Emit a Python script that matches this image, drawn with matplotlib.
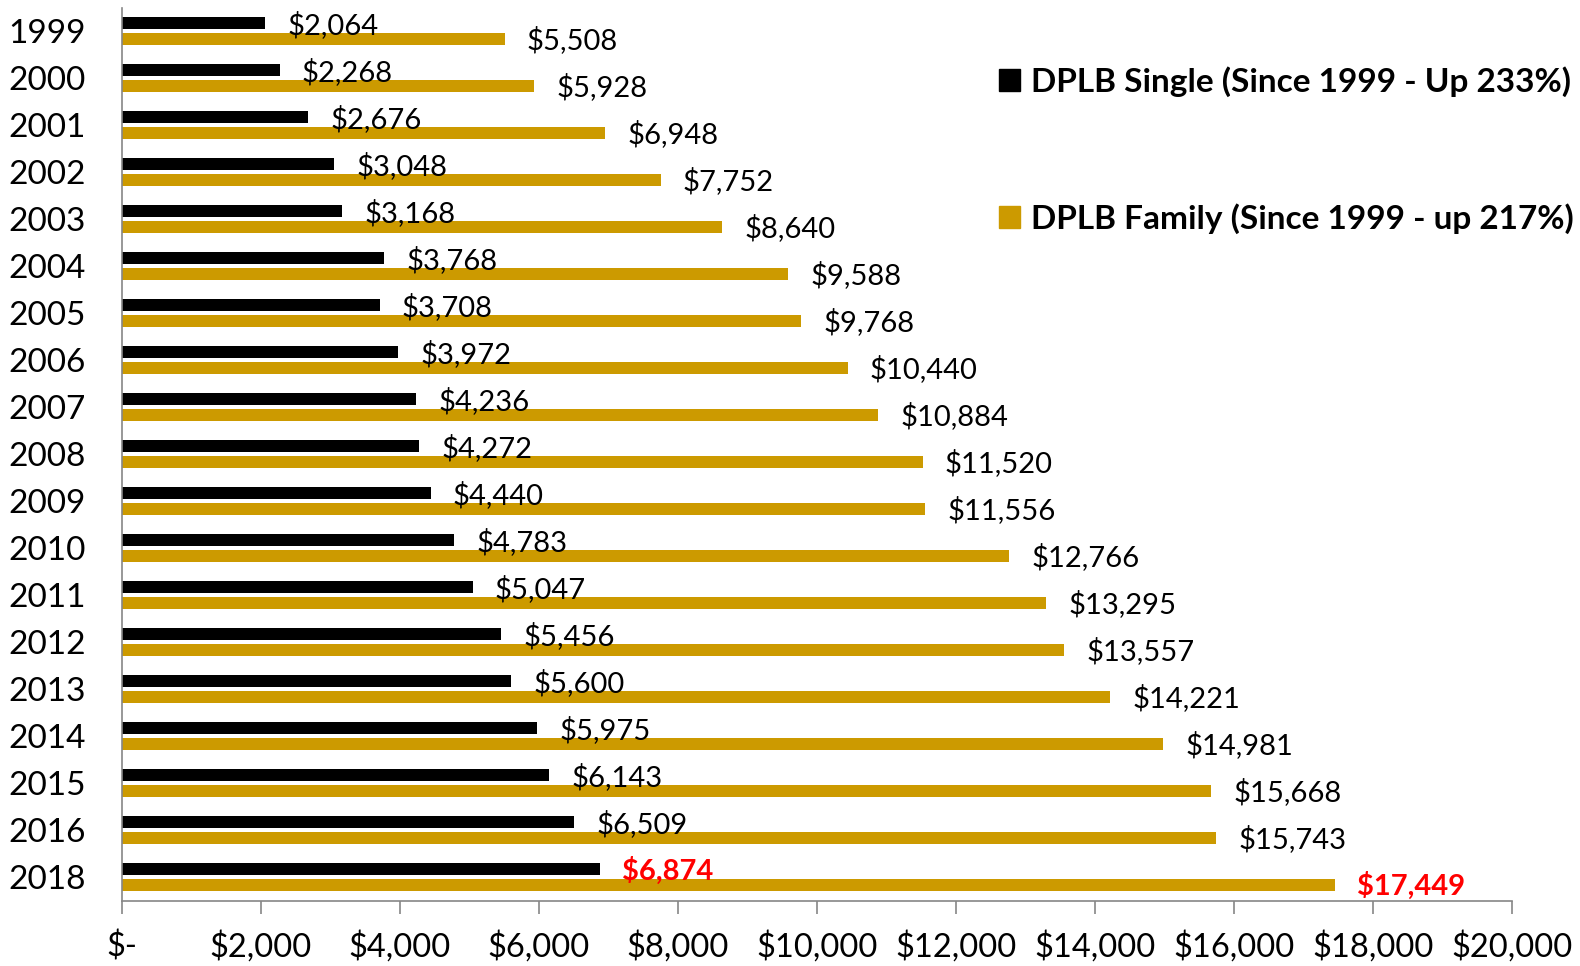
import matplotlib as mpl
import matplotlib.pyplot as plt
import numpy as np
from matplotlib.patches import Patch

YEARS = ["1999", "2000", "2001", "2002", "2003", "2004", "2005", "2006", "2007", "2008",
         "2009", "2010", "2011", "2012", "2013", "2014", "2015", "2016", "2018"]
SINGLE = [2064, 2268, 2676, 3048, 3168, 3768, 3708, 3972, 4236, 4272,
          4440, 4783, 5047, 5456, 5600, 5975, 6143, 6509, 6874]
FAMILY = [5508, 5928, 6948, 7752, 8640, 9588, 9768, 10440, 10884, 11520,
          11556, 12766, 13295, 13557, 14221, 14981, 15668, 15743, 17449]
X_TICKS = [0, 2000, 4000, 6000, 8000, 10000, 12000, 14000, 16000, 18000, 20000]
LEG_SINGLE = "DPLB Single (Since 1999 - Up 233%)"
LEG_FAMILY = "DPLB Family (Since 1999 - up 217%)"

GOLD = "#CC9A00"
GREY = "#868686"

mpl.rcParams["font.family"] = ["Liberation Sans Narrow", "Lato", "DejaVu Sans"]


def money(v):
    return "$-" if v == 0 else f"${v:,.0f}"


fig = plt.figure(figsize=(15.8, 9.66), dpi=100)
ax = fig.add_axes([122 / 1580, 1 - 900.5 / 966, 1390 / 1580, 893 / 966])

y = np.arange(len(YEARS))
h = 0.255
off = 0.165
ax.barh(y - off, SINGLE, height=h, color="black")
ax.barh(y + off, FAMILY, height=h, color=GOLD)

# data labels; the last year is highlighted in bold red
last = len(YEARS) - 1
for i, (s, f) in enumerate(zip(SINGLE, FAMILY)):
    red = i == last
    kw = dict(color="red" if red else "black", fontweight="bold" if red else "normal",
              fontsize=21, va="center", ha="left", textcoords="offset points")
    ax.annotate(money(s), (s, i - off), xytext=(16, -1), **kw)
    ax.annotate(money(f), (f, i + off), xytext=(16, -1), **kw)

ax.set_ylim(len(YEARS) - 0.5, -0.5)
ax.set_xlim(0, 20000)
ax.set_yticks(y)
ax.set_yticklabels(YEARS, fontsize=24)
ax.tick_params(axis="y", length=0, pad=26)
ax.set_xticks(X_TICKS)
ax.set_xticklabels([money(v) for v in X_TICKS], fontsize=23.5)
ax.tick_params(axis="x", length=9, width=1.2, color=GREY, pad=13)
for s in ["top", "right"]:
    ax.spines[s].set_visible(False)
for s in ["left", "bottom"]:
    ax.spines[s].set_color(GREY)
    ax.spines[s].set_linewidth(1.2)

handles = [Patch(color="black", label=LEG_SINGLE), Patch(color=GOLD, label=LEG_FAMILY)]
fig.legend(handles=handles, loc="upper left", bbox_to_anchor=(999 / 1580, 1 - 66 / 966),
           frameon=False, prop={"weight": "bold", "size": 24}, labelspacing=3.2,
           handlelength=0.63, handleheight=0.63, handletextpad=0.33, borderaxespad=0,
           borderpad=0)

fig.savefig("out.png", dpi=100)
